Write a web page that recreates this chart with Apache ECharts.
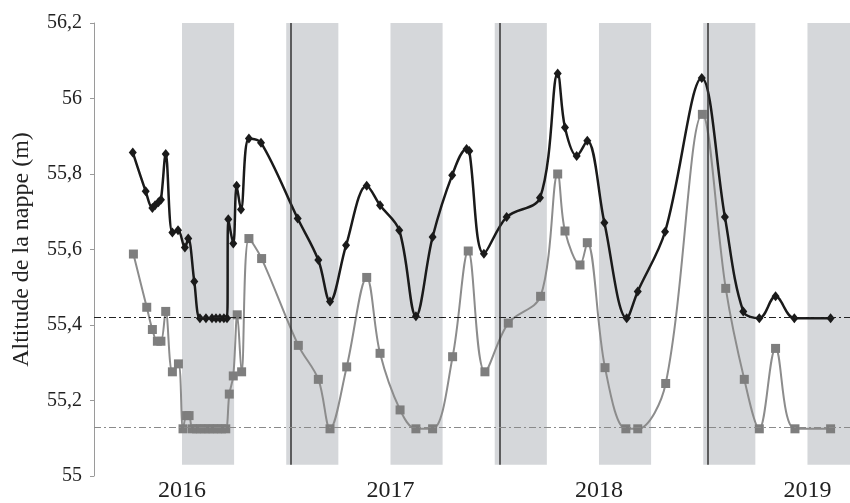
<!DOCTYPE html>
<html>
<head>
<meta charset="utf-8">
<script src="https://cdn.jsdelivr.net/npm/echarts@6/dist/echarts.min.js"></script>
<style>
  html,body{margin:0;padding:0;background:#fff;}
  #chart{width:850px;height:503px;}
</style>
</head>
<body>
<div id="chart"></div>
<script>
  // niveau piezometrique - piezometre 1 (losanges noirs), [annee decimale, altitude]
  var serieNoire=[
    [2015.764,55.857],[2015.826,55.754],[2015.858,55.710],[2015.871,55.717],[2015.887,55.725],
    [2015.899,55.732],[2015.922,55.853],[2015.954,55.645],[2015.981,55.651],[2016.014,55.605],
    [2016.030,55.629],[2016.059,55.515],[2016.086,55.418],[2016.115,55.418],[2016.144,55.418],
    [2016.163,55.418],[2016.182,55.418],[2016.201,55.418],[2016.216,55.418],[2016.222,55.680],
    [2016.246,55.616],[2016.262,55.769],[2016.283,55.706],[2016.321,55.894],[2016.379,55.883],
    [2016.555,55.682],[2016.654,55.572],[2016.710,55.462],[2016.787,55.611],[2016.886,55.769],
    [2016.950,55.717],[2017.042,55.651],[2017.122,55.423],[2017.202,55.633],[2017.296,55.797],
    [2017.365,55.866],[2017.378,55.861],[2017.448,55.589],[2017.557,55.686],[2017.717,55.737],
    [2017.802,56.066],[2017.837,55.923],[2017.893,55.848],[2017.944,55.888],[2018.026,55.671],
    [2018.133,55.418],[2018.186,55.489],[2018.317,55.647],[2018.493,56.054],[2018.604,55.686],
    [2018.692,55.436],[2018.769,55.418],[2018.847,55.476],[2018.937,55.418],[2019.111,55.418]
  ];
  // piezometre 2 (carres gris)
  var serieGrise=[
    [2015.767,55.588],[2015.831,55.447],[2015.858,55.388],[2015.882,55.357],[2015.899,55.357],
    [2015.922,55.436],[2015.954,55.276],[2015.983,55.297],[2016.005,55.125],[2016.022,55.160],
    [2016.034,55.160],[2016.050,55.125],[2016.070,55.125],[2016.090,55.125],[2016.110,55.125],
    [2016.130,55.125],[2016.150,55.125],[2016.170,55.125],[2016.190,55.125],[2016.210,55.125],
    [2016.227,55.217],[2016.246,55.265],[2016.265,55.427],[2016.286,55.276],[2016.321,55.629],
    [2016.382,55.576],[2016.558,55.346],[2016.654,55.256],[2016.710,55.125],[2016.790,55.289],
    [2016.886,55.526],[2016.950,55.325],[2017.046,55.175],[2017.122,55.125],[2017.202,55.125],
    [2017.298,55.316],[2017.373,55.596],[2017.453,55.276],[2017.565,55.405],[2017.720,55.476],
    [2017.802,55.800],[2017.837,55.649],[2017.909,55.559],[2017.944,55.618],[2018.029,55.287],
    [2018.129,55.125],[2018.186,55.125],[2018.320,55.245],[2018.496,55.958],[2018.608,55.497],
    [2018.697,55.256],[2018.769,55.125],[2018.847,55.338],[2018.940,55.125],[2019.111,55.125]
  ];
  // periodes grisees [debut, fin]
  var periodes=[
    [2016.0,2016.25],[2016.5,2016.75],[2017.0,2017.25],[2017.5,2017.75],
    [2018.0,2018.25],[2018.5,2018.75],[2019.0,2019.25]
  ];
  // traits verticaux
  var traitsVerticaux=[2016.523,2017.525,2018.523];
  // niveaux de reference (tirets-points)
  var niveauNoir=55.42;
  var niveauGris=55.13;
  var annees=[2016,2017,2018,2019];

  var chart=echarts.init(document.getElementById("chart"));
  var police="Liberation Serif";

  var bandes=periodes.map(function(p){
    return [{coord:[p[0],55.03]},{coord:[p[1],56.2]}];
  });
  var verticales=traitsVerticaux.map(function(x){
    return [{coord:[x,55.03]},{coord:[x,56.2]}];
  });

  chart.setOption({
    animation:false,
    grid:{left:94,right:0,top:23,bottom:24},
    xAxis:{
      type:'value',
      min:2015.578,
      max:2019.204,
      axisLine:{show:false},
      axisTick:{show:false},
      splitLine:{show:false},
      axisLabel:{
        customValues:annees,
        fontFamily:police,
        fontSize:24,
        color:'#222',
        margin:3,
        formatter:function(v){return String(Math.round(v));}
      }
    },
    yAxis:{
      type:'value',
      min:55,
      max:56.2,
      interval:0.2,
      name:'Altitude de la nappe (m)',
      nameLocation:'middle',
      nameGap:60,
      nameTextStyle:{fontFamily:police,fontSize:24,color:'#222'},
      axisLine:{show:true,lineStyle:{color:'#9a9a9a',width:1}},
      axisTick:{show:true,length:4,lineStyle:{color:'#9a9a9a'}},
      splitLine:{show:false},
      axisLabel:{
        fontFamily:police,
        fontSize:20,
        color:'#222',
        margin:12,
        formatter:function(v){return String(Math.round(v*10)/10).replace('.',',');}
      }
    },
    series:[
      {
        // fond : bandes grises et traits verticaux
        type:'line',
        data:[],
        z:1,
        markArea:{
          silent:true,
          itemStyle:{color:'#d5d7da'},
          data:bandes
        },
        markLine:{
          silent:true,
          symbol:'none',
          label:{show:false},
          lineStyle:{color:'#333',width:1.5,type:'solid'},
          data:verticales
        }
      },
      {
        type:'line',
        data:[],
        z:2,
        markLine:{
          silent:true,
          symbol:'none',
          label:{show:false},
          data:[
            {yAxis:niveauNoir,lineStyle:{color:'#222',width:1.2,type:[7,3,2,3]}},
            {yAxis:niveauGris,lineStyle:{color:'#8a8a8a',width:1.2,type:[7,3,2,3]}}
          ]
        }
      },
      {
        name:'Piezometre 2',
        type:'line',
        data:serieGrise,
        smooth:0.35,
        z:3,
        symbol:'rect',
        symbolSize:9,
        lineStyle:{color:'#8c8c8c',width:2},
        itemStyle:{color:'#7e7e7e'}
      },
      {
        name:'Piezometre 1',
        type:'line',
        data:serieNoire,
        smooth:0.35,
        z:4,
        symbol:'diamond',
        symbolSize:[8,10],
        lineStyle:{color:'#1a1a1a',width:2.5},
        itemStyle:{color:'#1a1a1a'}
      }
    ]
  });
</script>
</body>
</html>
